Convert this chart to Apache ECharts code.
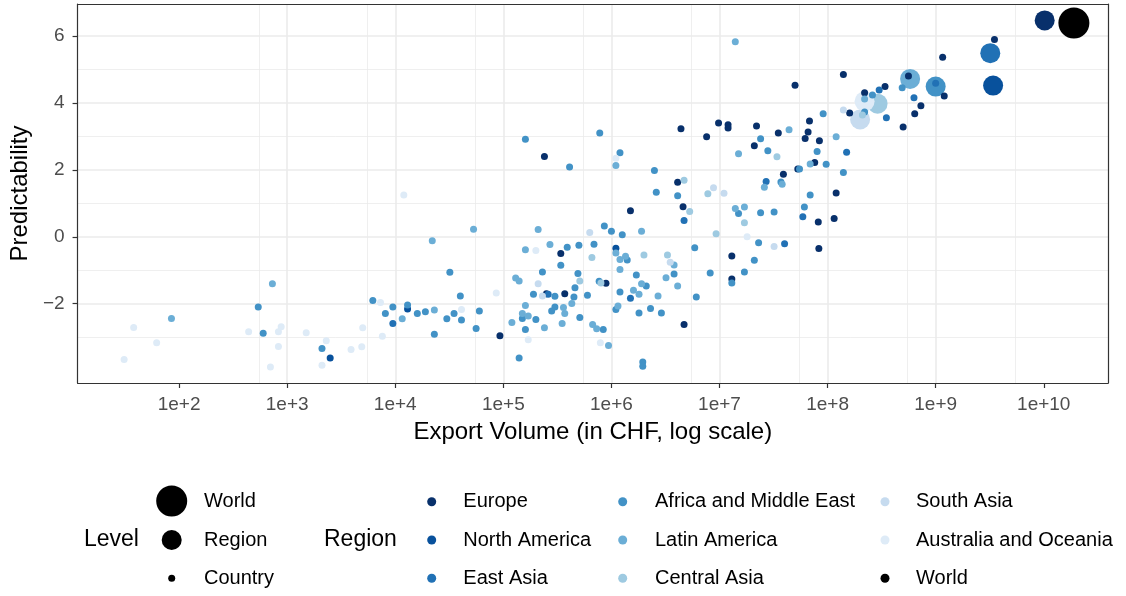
<!DOCTYPE html>
<html>
<head>
<meta charset="utf-8">
<script src="https://cdn.jsdelivr.net/npm/echarts@6.0.0/dist/echarts.min.js"></script>
<style>
html, body { margin: 0; padding: 0; background: #fff; }
#main { width: 1126px; height: 596px; }
</style>
</head>
<body>
<div id="main"></div>
<script>
// export volume (CHF) vs predictability, one array per region
const regionNames = ['Europe', 'North America', 'East Asia', 'Africa and Middle East',
    'Latin America', 'Central Asia', 'South Asia', 'Australia and Oceania'];

const europe = [[3.5e9, 5.90], [1.16e9, 5.37], [1.2e9, 4.21], [5.6e8, 4.81], [7.3e8, 3.92], [6.4e8, 3.68],
    [5.0e8, 3.28], [3.4e8, 4.49], [2.2e8, 4.31], [1.6e8, 3.70], [1.4e8, 4.85], [5.0e7, 4.53], [6.8e7, 3.46],
    [6.6e7, 3.13], [6.2e7, 2.94], [8.4e7, 2.87], [3.5e7, 3.10], [7.6e7, 2.22], [5.3e7, 2.03], [3.9e7, 1.87],
    [1.2e8, 1.31], [8.2e7, 0.44], [1.15e8, 0.55], [8.3e7, -0.35], [4.4e6, 3.23], [4.1e6, 1.63], [4.6e6, 0.90],
    [7.6e6, 2.99], [9.8e6, 3.40], [1.2e7, 3.35], [1.2e7, 3.25], [2.2e7, 3.31], [2.1e7, 2.72], [1.3e7, -0.57],
    [1.3e7, -1.26], [4.7e6, -2.62], [1.5e6, 0.78], [8.9e5, -1.39], [3.7e5, -1.70], [3.4e5, -0.50],
    [2.5e5, -1.70], [2.4e5, 2.40], [9.3e4, -2.96]];
const northAmerica = [[1.3e4, -2.16], [2.5e3, -3.62], [1.1e6, -0.34]];
const eastAsia = [[9.5e3, -2.59], [4.7e6, 0.49], [2.7e7, 1.65], [1.0e9, 4.59], [6.3e8, 4.16], [3.0e8, 4.39],
    [3.5e8, 3.56], [1.5e8, 2.53], [5.9e7, 0.60], [4.0e7, -0.21], [1.5e6, -1.84], [2.6e5, -1.72]];
const africaMiddleEast = [[5.4e2, -2.10], [6.0e2, -2.88], [2.1e3, -3.34], [6.2e3, -1.90], [8.1e3, -2.29],
    [9.5e3, -2.10], [1.3e4, -2.04], [1.6e4, -2.29], [1.9e4, -2.24], [1.6e5, 2.92], [4.1e5, 2.09], [7.8e5, 3.10],
    [1.2e6, 2.51], [2.5e6, 1.98], [2.6e6, 1.33], [4.1e6, 1.23], [2.4e7, 2.93], [2.8e7, 2.57], [1.5e7, 0.70],
    [2.4e7, 0.72], [2.3e7, -0.18], [2.1e7, -0.70], [1.7e7, -1.05], [1.3e7, -1.38], [8.2e6, -1.08],
    [5.9e6, -0.33], [6.1e6, -1.80], [8.6e5, 0.32], [1.0e6, 0.17], [1.26e6, 0.06], [6.9e5, -0.22],
    [1.4e6, -0.69], [3.8e6, -1.11], [1.7e6, -1.14], [1.2e6, -1.65], [2.1e6, -1.47], [1.1e6, -2.17],
    [1.8e6, -2.28], [2.3e6, -2.14], [2.9e6, -2.28], [1.95e6, -3.74], [1.95e6, -3.87], [8.4e5, -2.77],
    [7.7e5, -1.33], [6.0e5, -1.75], [4.9e5, -1.10], [4.6e5, -1.52], [4.5e5, -1.80], [5.1e5, -2.41],
    [3.0e5, -1.78], [3.0e5, -2.10], [2.8e5, -2.22], [1.9e5, -1.72], [2.3e5, -1.05], [3.4e5, -0.85],
    [3.9e5, -0.31], [5.0e5, -0.25], [3.2e4, -1.06], [4.0e4, -1.77], [1.5e5, -2.44], [2.0e5, -2.47],
    [1.6e5, -2.77], [1.4e5, -3.62], [5.6e4, -2.74], [6.0e4, -2.22], [4.1e4, -2.49], [3.5e4, -2.29],
    [3.0e4, -2.45], [2.3e4, -2.91], [4.9e8, 4.46], [2.6e8, 4.24], [2.2e8, 3.73], [9.1e7, 3.68], [8.0e7, 2.55],
    [9.7e7, 2.17], [5.5e7, 2.03], [3.7e7, 1.64], [1.4e8, 1.92], [6.9e7, 1.25], [6.1e7, 0.89], [3.2e7, 0.74]];
const latinAmerica = [[7.3e2, -1.40], [85, -2.44], [1.16e4, -2.45], [1.4e7, 5.83], [1.1e6, 2.13], [1.5e7, 2.48],
    [2.6e7, 1.48], [1.4e7, 0.85], [1.7e7, 0.89], [1.9e6, 0.17], [1.1e6, -0.48], [1.2e6, -0.68], [1.35e6, -0.58],
    [3.8e6, -0.84], [3.2e6, -1.22], [4.1e6, -1.47], [2.7e6, -1.77], [1.2e6, -0.98], [1.6e6, -1.60],
    [1.8e6, -1.72], [1.9e6, -1.40], [1.15e6, -2.07], [9.4e5, -3.25], [6.7e5, -2.62], [7.3e5, -2.75],
    [4.3e5, -1.99], [3.6e5, -2.11], [3.7e5, -2.29], [3.5e5, -2.59], [2.7e5, -0.23], [1.6e5, -0.39],
    [2.1e5, 0.22], [5.3e4, 0.23], [2.2e4, -0.12], [1.3e5, -1.23], [1.4e5, -1.32], [1.6e5, -2.05],
    [1.5e5, -2.29], [1.7e5, -2.37], [1.2e5, -2.56], [2.4e5, -2.72], [2.3e4, -2.19], [4.4e7, 3.20],
    [1.2e8, 2.99], [6.9e7, 2.18], [3.8e7, 1.57], [2.2e8, 4.12]];
const centralAsia = [[4.7e6, 1.69], [5.3e6, 0.76], [7.8e6, 1.29], [1.7e7, 0.42], [9.3e6, 0.09], [6.6e5, -0.62],
    [2.0e6, -0.54], [3.3e6, -0.54], [8.0e5, -1.38], [5.1e5, -1.32], [3.4e7, 2.39], [2.1e8, 3.64]];
const southAsia = [[8.8e6, 1.47], [1.1e7, 1.30], [6.3e5, 0.13], [3.5e6, -0.76], [2.3e5, -1.77], [2.1e5, -1.40],
    [1.4e8, 3.79], [3.2e7, -0.29]];
const australiaOceania = [[1.2e4, 1.25], [38, -2.71], [62, -3.17], [31, -3.67], [4.4e2, -2.84], [8.3e2, -2.84],
    [8.8e2, -2.69], [8.3e2, -3.28], [7.0e2, -3.89], [1.5e3, -2.87], [2.3e3, -3.11], [2.1e3, -3.84],
    [3.9e3, -3.37], [4.9e3, -3.29], [5.0e3, -2.72], [7.3e3, -1.96], [7.6e3, -2.97], [1.1e6, 2.35],
    [1.8e7, 0.0], [7.9e5, -3.17], [2.0e5, -0.41], [8.6e4, -1.68], [4.1e4, -2.17], [1.7e5, -3.08]];

// aggregate per region (same order as regionNames) and the world total
const regionTotals = [[1.02e10, 6.47], [3.4e9, 4.52], [3.2e9, 5.49], [1.0e9, 4.49], [5.8e8, 4.72],
    [2.9e8, 3.98], [2.0e8, 3.51], [2.2e8, 4.05]];
const worldTotal = [1.9e10, 6.39];

// axis ticks
const xTicks = [1e2, 1e3, 1e4, 1e5, 1e6, 1e7, 1e8, 1e9, 1e10];
const xMinorLog = [2.7404, 3.7404, 4.7404, 5.7404, 6.7404, 7.7404, 8.7404, 9.7404];
const yTicks = [-2, 0, 2, 4, 6];
const yMinor = [-3, -1, 1, 3, 5];

const countryData = [europe, northAmerica, eastAsia, africaMiddleEast, latinAmerica, centralAsia, southAsia, australiaOceania];
const colors = ['#08306B', '#08519C', '#2171B5', '#4292C6', '#6BAED6', '#9ECAE1', '#C6DBEF', '#DEEBF7'];

const FONT = 'Liberation Sans';
const gridColor = '#EBEBEB';
const frameColor = '#333333';

var chartDom = document.getElementById('main');
var myChart = echarts.init(chartDom, null, { renderer: 'canvas' });

let series = [];
regionNames.forEach((name, i) => {
    series.push({
        name: name, type: 'scatter', symbolSize: 20,
        itemStyle: { color: colors[i], opacity: 1 },
        emphasis: { disabled: true },
        data: [regionTotals[i]]
    });
});
series.push({
    name: 'World', type: 'scatter', symbolSize: 31,
    itemStyle: { color: '#000000', opacity: 1 },
    emphasis: { disabled: true },
    data: [worldTotal]
});
regionNames.forEach((name, i) => {
    series.push({
        name: name, type: 'scatter', symbolSize: 7,
        itemStyle: { color: colors[i], opacity: 1 },
        emphasis: { disabled: true },
        data: countryData[i]
    });
});
// only used by the "Level" legend
series.push({ name: 'Region', type: 'scatter', data: [], itemStyle: { color: '#000', opacity: 1 } });
series.push({ name: 'Country', type: 'scatter', data: [], itemStyle: { color: '#000', opacity: 1 } });

const legendText = { fontSize: 20, color: '#000', fontFamily: FONT, lineHeight: 20 };
// legend box is placed by its drawn icon, so left = icon's left edge
function levelLegend(name, size, centerY) {
    return {
        data: [{ name: name, icon: 'circle', itemStyle: { color: '#000', opacity: 1 } }],
        left: 171.7 - size / 2, top: centerY - Math.max(size, 20) / 2,
        itemWidth: 54.6, itemHeight: size, padding: 0,
        selectedMode: false, textStyle: legendText
    };
}
function regionLegend(names, centerX, textX) {
    return {
        data: names.map(n => ({ name: n, icon: 'circle', itemStyle: { color: n === 'World' ? '#000' : colors[regionNames.indexOf(n)], opacity: 1 } })),
        orient: 'vertical', left: centerX - 4.5, top: 491.7,
        itemWidth: 2 * (textX - 5 - centerX), itemHeight: 9, itemGap: 18.3, padding: 0,
        selectedMode: false, textStyle: legendText
    };
}

const option = {
    animation: false,
    textStyle: { fontFamily: FONT },
    grid: { left: 76, right: 18, top: 4, bottom: 213, containLabel: false },
    xAxis: [{
        type: 'log', logBase: 10, min: 11.5, max: 3.93e10, position: 'bottom',
        name: 'Export Volume (in CHF, log scale)', nameLocation: 'middle', nameGap: 37,
        nameTextStyle: { fontSize: 24, color: '#000', fontFamily: FONT },
        axisLine: { show: true, onZero: false, lineStyle: { color: frameColor, width: 1.2 } },
        axisTick: { show: true, length: 5, customValues: xTicks, lineStyle: { color: frameColor, width: 1.2 } },
        axisLabel: {
            customValues: xTicks, fontSize: 19, color: '#4D4D4D', margin: 12,
            formatter: v => '1e+' + Math.round(Math.log10(v))
        },
        splitLine: { show: true, showMinLine: false, showMaxLine: false, lineStyle: { color: gridColor, width: 1.6 } }
    }, {
        // minor grid in log10 units, also draws the top frame
        type: 'value', min: 1.0609, max: 10.594, position: 'top',
        axisLine: { show: true, onZero: false, lineStyle: { color: frameColor, width: 1.2 } },
        axisTick: { show: false, customValues: xMinorLog },
        axisLabel: { show: false },
        splitLine: { show: true, lineStyle: { color: gridColor, width: 0.8 } }
    }],
    yAxis: [{
        type: 'value', min: -4.37, max: 6.96, position: 'left',
        name: 'Predictability', nameLocation: 'middle', nameGap: 42,
        nameTextStyle: { fontSize: 24, color: '#000', fontFamily: FONT },
        axisLine: { show: true, onZero: false, lineStyle: { color: frameColor, width: 1.2 } },
        axisTick: { show: true, length: 5, customValues: yTicks, lineStyle: { color: frameColor, width: 1.2 } },
        axisLabel: {
            customValues: yTicks, fontSize: 19, color: '#4D4D4D', margin: 13,
            formatter: v => v < 0 ? '\u2212' + (-v) : String(v)
        },
        splitLine: { show: true, lineStyle: { color: gridColor, width: 1.6 } }
    }, {
        type: 'value', min: -4.37, max: 6.96, position: 'right',
        axisLine: { show: true, onZero: false, lineStyle: { color: frameColor, width: 1.2 } },
        axisTick: { show: false, customValues: yMinor },
        axisLabel: { show: false },
        splitLine: { show: true, lineStyle: { color: gridColor, width: 0.8 } }
    }],
    legend: [
        levelLegend('World', 31, 501),
        levelLegend('Region', 20, 540),
        levelLegend('Country', 7, 578.3),
        regionLegend(['Europe', 'North America', 'East Asia'], 431.7, 463.3),
        regionLegend(['Africa and Middle East', 'Latin America', 'Central Asia'], 622.7, 655),
        regionLegend(['South Asia', 'Australia and Oceania', 'World'], 885, 916)
    ],
    graphic: [
        { type: 'text', x: 84, y: 540, style: { text: 'Level', fontSize: 23, fill: '#000', fontFamily: FONT, verticalAlign: 'middle' } },
        { type: 'text', x: 324, y: 540, style: { text: 'Region', fontSize: 23, fill: '#000', fontFamily: FONT, verticalAlign: 'middle' } }
    ],
    series: series
};

option && myChart.setOption(option);
</script>
</body>
</html>
